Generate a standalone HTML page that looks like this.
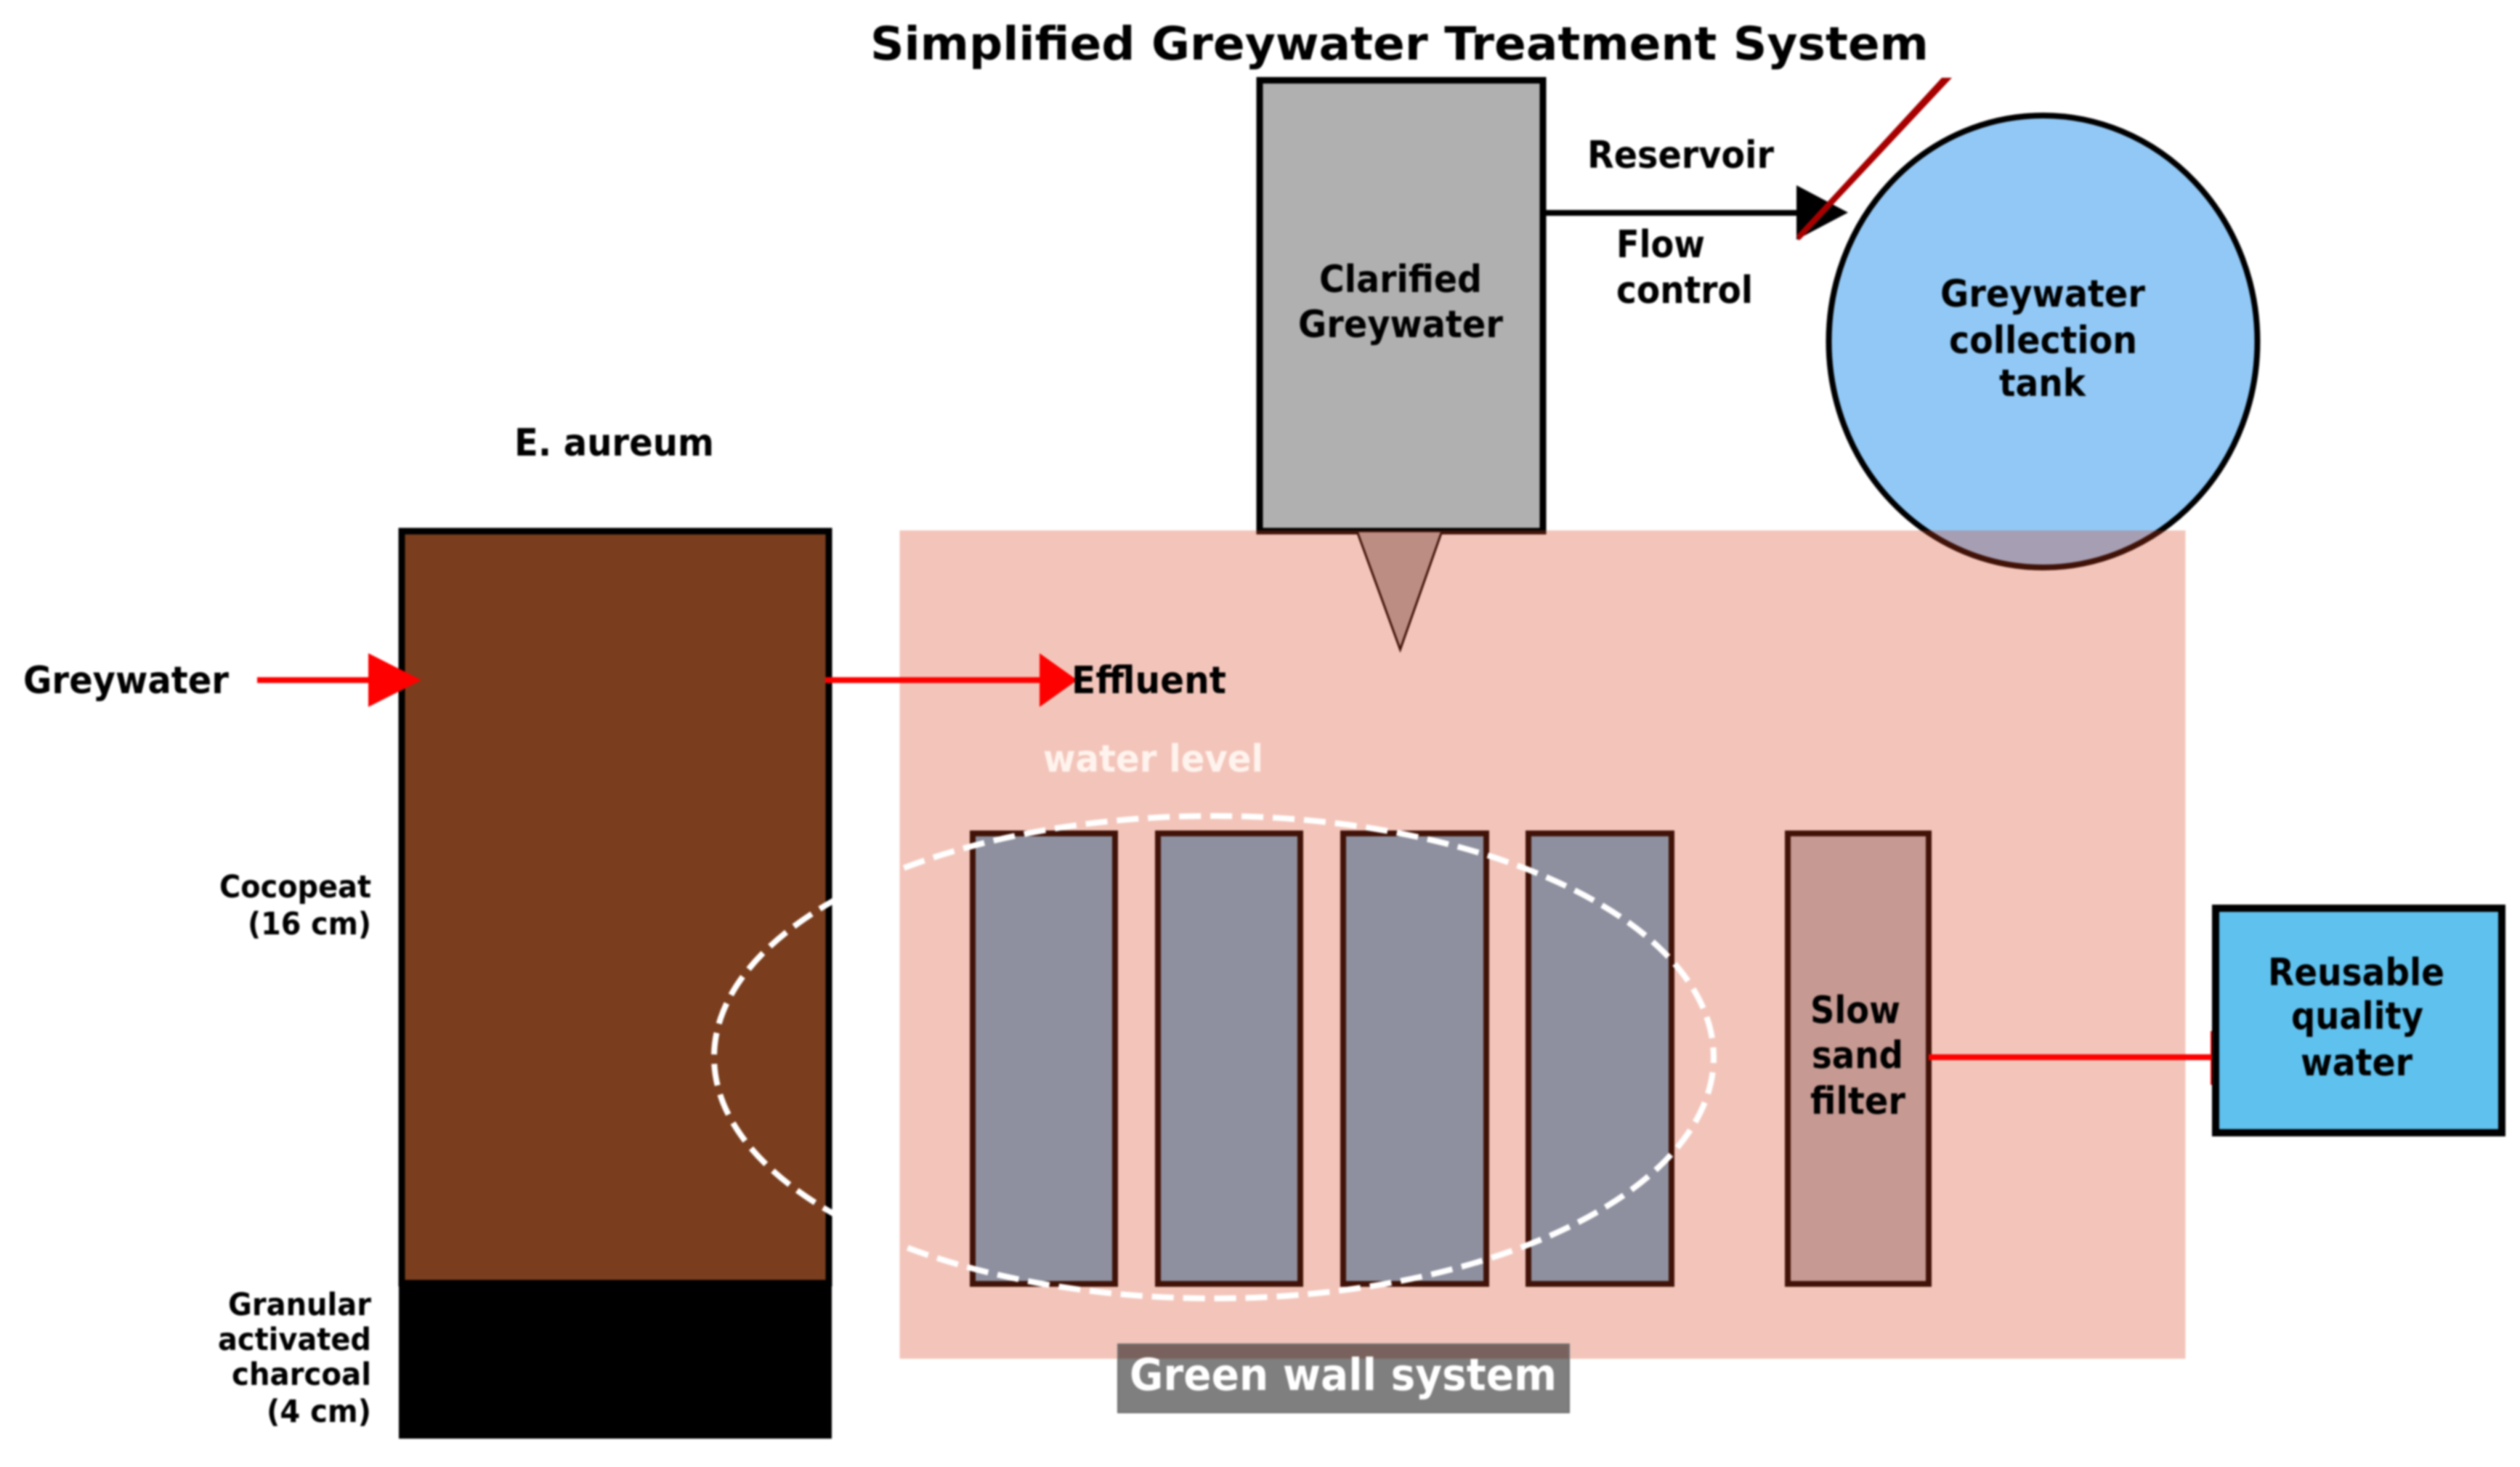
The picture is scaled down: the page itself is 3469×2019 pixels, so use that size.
<!DOCTYPE html>
<html>
<head>
<meta charset="utf-8">
<style>
html,body{margin:0;padding:0;background:#fff;width:3469px;height:2019px;overflow:hidden}
svg{display:block;filter:blur(1.2px)}
text{font-family:"DejaVu Sans","Liberation Sans",sans-serif;font-weight:700;fill:#000}
</style>
</head>
<body>
<svg xmlns="http://www.w3.org/2000/svg" width="3469" height="2019" viewBox="0 0 3469 2019">
<rect width="3469" height="2019" fill="#fff"/>

<!-- Left column -->
<rect x="553" y="731" width="588" height="1035" fill="#7a3e1e" stroke="#000" stroke-width="9"/>
<rect x="549" y="1765" width="596" height="215" fill="#000"/>

<!-- Under-overlay shapes -->
<rect x="1734" y="110.500" width="390" height="620.500" fill="#b0b0b0" stroke="#000" stroke-width="9"/>
<polygon points="1868,731 1985,731 1927.5,894" fill="#b0b0b0" stroke="#000" stroke-width="3"/>
<ellipse cx="2812.5" cy="470" rx="295" ry="311" fill="#91c8f5" stroke="#000" stroke-width="8"/>
<rect x="1339" y="1147" width="196" height="620" fill="#6fb4d9" stroke="#000" stroke-width="8"/>
<rect x="1594" y="1147" width="196" height="620" fill="#6fb4d9" stroke="#000" stroke-width="8"/>
<rect x="1849" y="1147" width="197" height="620" fill="#6fb4d9" stroke="#000" stroke-width="8"/>
<rect x="2104" y="1147" width="197" height="620" fill="#6fb4d9" stroke="#000" stroke-width="8"/>
<rect x="2461" y="1147" width="194" height="620" fill="#bfc1c6" stroke="#000" stroke-width="8"/>

<!-- Translucent salmon panel -->
<rect x="1238.500" y="730" width="1770" height="1140" fill="rgb(215,62,28)" fill-opacity="0.3"/>

<!-- Label backing -->
<rect x="1539" y="1850" width="621" height="94" fill="#000" fill-opacity="0.5" stroke="#6f6f6f" stroke-width="2"/>

<!-- Blue box -->
<rect x="3050" y="1250" width="394" height="309" fill="#5fc1ee" stroke="#000" stroke-width="10"/>

<!-- Connectors -->
<line x1="354" y1="936" x2="510" y2="936" stroke="#f00" stroke-width="8"/>
<polygon points="507,899 580,936 507,973" fill="#f00"/>
<line x1="1136" y1="936" x2="1435" y2="936" stroke="#f00" stroke-width="8"/>
<polygon points="1431,899 1483,936 1431,973" fill="#f00"/>
<line x1="2655" y1="1455" x2="3045" y2="1455" stroke="#f00" stroke-width="8"/>
<line x1="3044" y1="1419" x2="3044" y2="1493" stroke="#f00" stroke-width="2"/>
<line x1="2128" y1="293" x2="2480" y2="293" stroke="#000" stroke-width="8"/>
<polygon points="2473,255 2544,292.500 2473,330" fill="#000"/>
<polygon points="2673,107 2687,107 2479,329 2476,331 2473,324" fill="#a80000"/>

<!-- Dashed ellipse -->
<ellipse cx="1671" cy="1455" rx="688" ry="332" fill="none" stroke="#fff" stroke-width="8" stroke-dasharray="30 13" stroke-dashoffset="22"/>

<!-- Text -->
<text x="1198" y="82" font-size="63" textLength="1457" lengthAdjust="spacingAndGlyphs">Simplified Greywater Treatment System</text>
<text x="2185" y="231" font-size="52" textLength="257" lengthAdjust="spacingAndGlyphs">Reservoir</text>
<text x="2225" y="354" font-size="52" textLength="122" lengthAdjust="spacingAndGlyphs">Flow</text>
<text x="2225" y="417" font-size="52" textLength="188" lengthAdjust="spacingAndGlyphs">control</text>
<text x="1816" y="402" font-size="52" textLength="224" lengthAdjust="spacingAndGlyphs">Clarified</text>
<text x="1787" y="464" font-size="52" textLength="282" lengthAdjust="spacingAndGlyphs">Greywater</text>
<text x="2671" y="422" font-size="52" textLength="282" lengthAdjust="spacingAndGlyphs">Greywater</text>
<text x="2683" y="486" font-size="52" textLength="259" lengthAdjust="spacingAndGlyphs">collection</text>
<text x="2752" y="545" font-size="52" textLength="119" lengthAdjust="spacingAndGlyphs">tank</text>
<text x="708" y="627" font-size="52" textLength="275" lengthAdjust="spacingAndGlyphs">E. aureum</text>
<text x="32" y="954" font-size="52" textLength="283" lengthAdjust="spacingAndGlyphs">Greywater</text>
<text x="1475" y="954" font-size="52" textLength="213" lengthAdjust="spacingAndGlyphs">Effluent</text>
<text x="1436" y="1062" font-size="52" textLength="303" lengthAdjust="spacingAndGlyphs" style="fill:#fff3ee">water level</text>
<text x="302" y="1235" font-size="43" textLength="209" lengthAdjust="spacingAndGlyphs">Cocopeat</text>
<text x="341" y="1286" font-size="43" textLength="170" lengthAdjust="spacingAndGlyphs">(16 cm)</text>
<text x="314" y="1810" font-size="43" textLength="197" lengthAdjust="spacingAndGlyphs">Granular</text>
<text x="300" y="1858" font-size="43" textLength="211" lengthAdjust="spacingAndGlyphs">activated</text>
<text x="319" y="1906" font-size="43" textLength="192" lengthAdjust="spacingAndGlyphs">charcoal</text>
<text x="367" y="1957" font-size="43" textLength="144" lengthAdjust="spacingAndGlyphs">(4 cm)</text>
<text x="2492" y="1408" font-size="52" textLength="124" lengthAdjust="spacingAndGlyphs">Slow</text>
<text x="2494" y="1470" font-size="52" textLength="126" lengthAdjust="spacingAndGlyphs">sand</text>
<text x="2492" y="1533" font-size="52" textLength="131" lengthAdjust="spacingAndGlyphs">filter</text>
<text x="3122" y="1356" font-size="52" textLength="243" lengthAdjust="spacingAndGlyphs">Reusable</text>
<text x="3154" y="1416" font-size="52" textLength="182" lengthAdjust="spacingAndGlyphs">quality</text>
<text x="3167" y="1480" font-size="52" textLength="154" lengthAdjust="spacingAndGlyphs">water</text>
<text x="1555" y="1913" font-size="61" textLength="588" lengthAdjust="spacingAndGlyphs" style="fill:#fff">Green wall system</text>
</svg>
</body>
</html>
